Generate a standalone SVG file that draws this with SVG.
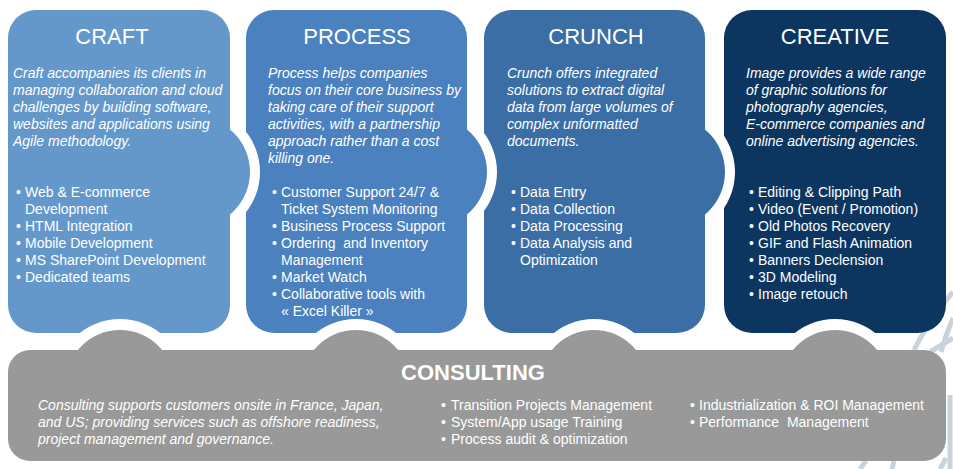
<svg xmlns="http://www.w3.org/2000/svg" width="953" height="469" viewBox="0 0 953 469">
<style>
  .title{font-family:"Liberation Sans",Arial,sans-serif;font-size:22px;fill:#ffffff;text-anchor:middle}
  .ctitle{font-family:"Liberation Sans",Arial,sans-serif;font-size:22px;font-weight:bold;fill:#ffffff;text-anchor:middle}
  .desc{font-family:"Liberation Sans",Arial,sans-serif;font-size:14px;font-style:italic;fill:#ffffff}
  .item{font-family:"Liberation Sans",Arial,sans-serif;font-size:14px;fill:#ffffff}
  .halo{fill:#ffffff}
  .bg{fill:none;stroke:#c9d3dc;stroke-width:5;stroke-linecap:butt}
</style>
<rect x="0" y="0" width="953" height="469" fill="#ffffff"/>
<g id="background">
  <path class="bg" d="M953,292 Q930,318 914,350"/>
  <path class="bg" d="M953,318 Q946,334 941,352"/>
  <path class="bg" d="M930,352 L953,338"/>
  <path class="bg" d="M950,395 L950,469"/>
  <path class="bg" d="M860,469 L866,461"/>
  <path class="bg" d="M892,469 L894,461"/>
  <path class="bg" d="M940,469 L946,458"/>
</g>
<g id="creative">
  <rect x="724" y="10" width="222" height="323" rx="28" fill="#0c3660"/>
  <text class="title" x="835" y="44">CREATIVE</text>
  <text class="desc" x="746" y="78">Image provides a wide range</text>
  <text class="desc" x="746" y="95">of graphic solutions for</text>
  <text class="desc" x="746" y="112">photography agencies,</text>
  <text class="desc" x="746" y="129">E-commerce companies and</text>
  <text class="desc" x="746" y="146">online advertising agencies.</text>
  <g class="item">
    <text x="749" y="197">•</text><text x="758" y="197">Editing &amp; Clipping Path</text>
    <text x="749" y="214">•</text><text x="758" y="214">Video (Event / Promotion)</text>
    <text x="749" y="231">•</text><text x="758" y="231">Old Photos Recovery</text>
    <text x="749" y="248">•</text><text x="758" y="248">GIF and Flash Animation</text>
    <text x="749" y="265">•</text><text x="758" y="265">Banners Declension</text>
    <text x="749" y="282">•</text><text x="758" y="282">3D Modeling</text>
    <text x="749" y="299">•</text><text x="758" y="299">Image retouch</text>
  </g>
</g>
<g id="crunch">
  <circle class="halo" cx="670" cy="172" r="65"/>
  <rect x="484" y="10" width="221" height="323" rx="28" fill="#3b6ea5"/>
  <circle cx="670" cy="172" r="55" fill="#3b6ea5"/>
  <text class="title" x="596" y="44">CRUNCH</text>
  <text class="desc" x="507" y="78">Crunch offers integrated</text>
  <text class="desc" x="507" y="95">solutions to extract digital</text>
  <text class="desc" x="507" y="112">data from large volumes of</text>
  <text class="desc" x="507" y="129">complex unformatted</text>
  <text class="desc" x="507" y="146">documents.</text>
  <g class="item">
    <text x="511" y="197">•</text><text x="520" y="197">Data Entry</text>
    <text x="511" y="214">•</text><text x="520" y="214">Data Collection</text>
    <text x="511" y="231">•</text><text x="520" y="231">Data Processing</text>
    <text x="511" y="248">•</text><text x="520" y="248">Data Analysis and</text>
    <text x="520" y="265">Optimization</text>
  </g>
</g>
<g id="process">
  <circle class="halo" cx="432" cy="172" r="65"/>
  <rect x="246" y="10" width="221" height="323" rx="28" fill="#4a81be"/>
  <circle cx="432" cy="172" r="55" fill="#4a81be"/>
  <text class="title" x="357" y="44">PROCESS</text>
  <text class="desc" x="268" y="78">Process helps companies</text>
  <text class="desc" x="268" y="95">focus on their core business by</text>
  <text class="desc" x="268" y="112">taking care of their support</text>
  <text class="desc" x="268" y="129">activities, with a partnership</text>
  <text class="desc" x="268" y="146">approach rather than a cost</text>
  <text class="desc" x="268" y="163">killing one.</text>
  <g class="item">
    <text x="272" y="197">•</text><text x="281" y="197">Customer Support 24/7 &amp;</text>
    <text x="281" y="214">Ticket System Monitoring</text>
    <text x="272" y="231">•</text><text x="281" y="231">Business Process Support</text>
    <text x="272" y="248">•</text><text x="281" y="248" xml:space="preserve">Ordering  and Inventory</text>
    <text x="281" y="265">Management</text>
    <text x="272" y="282">•</text><text x="281" y="282">Market Watch</text>
    <text x="272" y="299">•</text><text x="281" y="299">Collaborative tools with</text>
    <text x="281" y="316">« Excel Killer »</text>
  </g>
</g>
<g id="craft">
  <circle class="halo" cx="195" cy="172" r="65"/>
  <rect x="8" y="10" width="222" height="323" rx="28" fill="#6598ca"/>
  <circle cx="195" cy="172" r="55" fill="#6598ca"/>
  <text class="title" x="112" y="44">CRAFT</text>
  <text class="desc" x="13" y="78">Craft accompanies its clients in</text>
  <text class="desc" x="13" y="95">managing collaboration and cloud</text>
  <text class="desc" x="13" y="112">challenges by building software,</text>
  <text class="desc" x="13" y="129">websites and applications using</text>
  <text class="desc" x="13" y="146">Agile methodology.</text>
  <g class="item">
    <text x="16" y="197">•</text><text x="25" y="197">Web &amp; E-commerce</text>
    <text x="25" y="214">Development</text>
    <text x="16" y="231">•</text><text x="25" y="231">HTML Integration</text>
    <text x="16" y="248">•</text><text x="25" y="248">Mobile Development</text>
    <text x="16" y="265">•</text><text x="25" y="265">MS SharePoint Development</text>
    <text x="16" y="282">•</text><text x="25" y="282">Dedicated teams</text>
  </g>
</g>
<g id="connectors"></g>
<g id="consulting">
  <circle class="halo" cx="120" cy="384" r="65"/>
  <circle class="halo" cx="356" cy="384" r="65"/>
  <circle class="halo" cx="594" cy="384" r="65"/>
  <circle class="halo" cx="835" cy="384" r="65"/>
  <rect x="8" y="350" width="938" height="111" rx="22" fill="#999999"/>
  <circle cx="120" cy="384" r="54" fill="#999999"/>
  <circle cx="356" cy="384" r="54" fill="#999999"/>
  <circle cx="594" cy="384" r="54" fill="#999999"/>
  <circle cx="835" cy="384" r="54" fill="#999999"/>
  <text class="ctitle" x="473" y="380">CONSULTING</text>
  <text class="desc" x="38" y="410">Consulting supports customers onsite in France, Japan,</text>
  <text class="desc" x="38" y="427">and US; providing services such as offshore readiness,</text>
  <text class="desc" x="38" y="444">project management and governance.</text>
  <g class="item">
    <text x="441" y="410">•</text><text x="451" y="410">Transition Projects Management</text>
    <text x="441" y="427">•</text><text x="451" y="427">System/App usage Training</text>
    <text x="441" y="444">•</text><text x="451" y="444">Process audit &amp; optimization</text>
    <text x="690" y="410">•</text><text x="699" y="410">Industrialization &amp; ROI Management</text>
    <text x="690" y="427">•</text><text x="699" y="427" xml:space="preserve">Performance  Management</text>
  </g>
</g>
</svg>
